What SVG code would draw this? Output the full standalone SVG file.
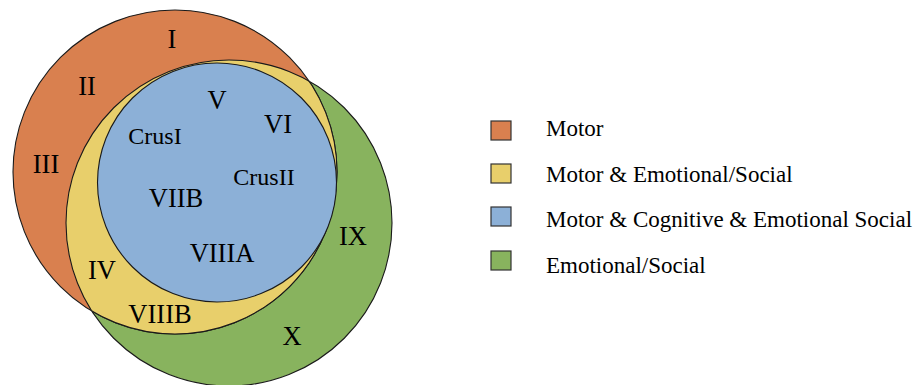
<svg xmlns="http://www.w3.org/2000/svg" width="913" height="385" viewBox="0 0 913 385">
  <style>
    .lbl { font-family: "Liberation Serif", "Times New Roman", serif; font-size: 24px; fill: #000; text-anchor: middle; }
    .num { font-size: 26.5px; }
    .leg { font-family: "Liberation Serif", "Times New Roman", serif; font-size: 23px; fill: #000; }
    .ol { stroke: #1a1a1a; stroke-width: 1.1; }
    .sw { stroke: #333; stroke-width: 1.2; }
  </style>
  <defs>
    <clipPath id="clipGreen">
      <circle cx="229" cy="223" r="163"/>
    </clipPath>
    <clipPath id="clipOrange">
      <circle cx="175" cy="172" r="162"/>
    </clipPath>
  </defs>
  <rect width="913" height="385" fill="#ffffff"/>
  <g id="venn">
    <g id="emotional-social">
      <circle cx="229" cy="223" r="163" fill="#88B35E" class="ol"/>
    </g>
    <g id="motor">
      <circle cx="175" cy="172" r="162" fill="#D9804F" class="ol"/>
    </g>
    <g id="motor-emotional">
      <circle cx="175" cy="172" r="162" fill="#E8CF6B" class="ol" clip-path="url(#clipGreen)"/>
      <circle cx="229" cy="223" r="163" fill="none" class="ol" clip-path="url(#clipOrange)"/>
    </g>
    <g id="motor-cognitive-emotional">
      <circle cx="217" cy="182.5" r="119.5" fill="#8CB0D7" class="ol"/>
    </g>
  </g>
  <g id="labels">
    <text class="lbl num" x="172" y="48">I</text>
    <text class="lbl num" x="87" y="95">II</text>
    <text class="lbl num" x="46" y="173">III</text>
    <text class="lbl num" x="217" y="109">V</text>
    <text class="lbl num" x="278" y="133">VI</text>
    <text class="lbl" x="155" y="144">CrusI</text>
    <text class="lbl" x="264" y="185">CrusII</text>
    <text class="lbl num" x="176" y="207">VIIB</text>
    <text class="lbl num" x="222" y="262">VIIIA</text>
    <text class="lbl num" x="353" y="245">IX</text>
    <text class="lbl num" x="102" y="279">IV</text>
    <text class="lbl num" x="160" y="323">VIIIB</text>
    <text class="lbl num" x="292" y="345">X</text>
  </g>
  <g id="legend">
    <g id="leg-motor">
      <rect x="491" y="121" width="20" height="19" fill="#D9804F" class="sw"/>
      <text class="leg" x="546" y="136">Motor</text>
    </g>
    <g id="leg-motor-emotional">
      <rect x="491" y="164" width="20" height="19" fill="#E8CF6B" class="sw"/>
      <text class="leg" x="546" y="181.5">Motor &amp; Emotional/Social</text>
    </g>
    <g id="leg-motor-cognitive-emotional">
      <rect x="491" y="207" width="20" height="19" fill="#8CB0D7" class="sw"/>
      <text class="leg" x="546" y="227">Motor &amp; Cognitive &amp; Emotional Social</text>
    </g>
    <g id="leg-emotional">
      <rect x="491" y="251" width="20" height="19" fill="#88B35E" class="sw"/>
      <text class="leg" x="546" y="273">Emotional/Social</text>
    </g>
  </g>
</svg>
